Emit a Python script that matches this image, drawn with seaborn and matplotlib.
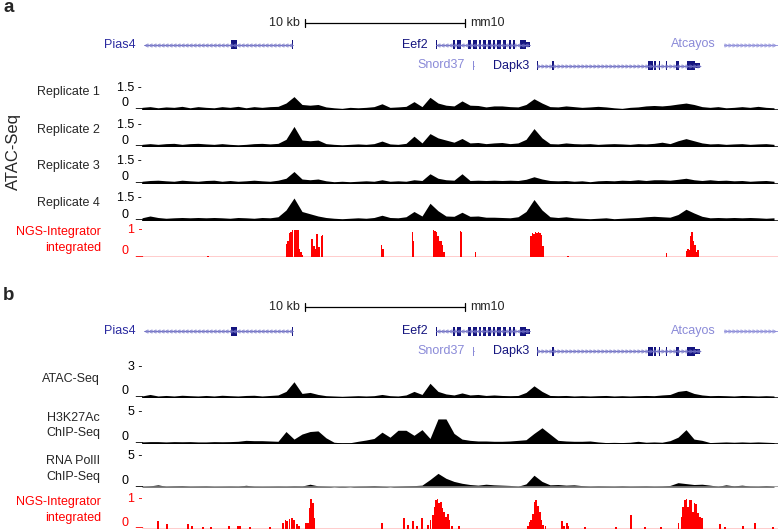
import numpy as np
import pandas as pd
import matplotlib
matplotlib.use("Agg")
import matplotlib.pyplot as plt
from matplotlib.patches import Rectangle
import seaborn as sns

# ---------------- data ----------------
# signal tracks: one value per 0.5 kb bin, 80 bins (track units)
rep1 = [0.15, 0.2, 0.12, 0.18, 0.15, 0.22, 0.12, 0.2, 0.15, 0.12,
        0.2, 0.15, 0.22, 0.12, 0.2, 0.15, 0.2, 0.22, 0.45, 0.9,
        0.35, 0.3, 0.35, 0.18, 0.12, 0.08, 0.15, 0.12, 0.15, 0.2,
        0.4, 0.15, 0.18, 0.22, 0.55, 0.2, 0.85, 0.45, 0.3, 0.25,
        0.6, 0.3, 0.28, 0.18, 0.25, 0.25, 0.2, 0.18, 0.35, 0.75,
        0.45, 0.2, 0.18, 0.25, 0.2, 0.15, 0.18, 0.22, 0.18, 0.12,
        0.08, 0.15, 0.18, 0.25, 0.28, 0.25, 0.3, 0.38, 0.45, 0.35,
        0.2, 0.15, 0.2, 0.12, 0.15, 0.2, 0.15, 0.22, 0.15, 0.12]
rep2 = [0.15, 0.2, 0.15, 0.2, 0.22, 0.15, 0.2, 0.22, 0.18, 0.15,
        0.2, 0.15, 0.12, 0.15, 0.2, 0.22, 0.18, 0.22, 0.5, 1.4,
        0.45, 0.4, 0.45, 0.2, 0.15, 0.12, 0.15, 0.18, 0.15, 0.2,
        0.38, 0.18, 0.15, 0.22, 0.72, 0.25, 0.9, 0.6, 0.45, 0.3,
        0.56, 0.25, 0.28, 0.2, 0.25, 0.28, 0.2, 0.25, 0.5, 1.25,
        0.6, 0.2, 0.18, 0.25, 0.2, 0.18, 0.2, 0.15, 0.18, 0.2,
        0.18, 0.15, 0.2, 0.18, 0.22, 0.3, 0.2, 0.4, 0.55, 0.4,
        0.25, 0.18, 0.2, 0.15, 0.18, 0.2, 0.15, 0.18, 0.2, 0.15]
rep3 = [0.15, 0.2, 0.22, 0.18, 0.15, 0.22, 0.18, 0.15, 0.2, 0.22,
        0.15, 0.2, 0.15, 0.18, 0.22, 0.18, 0.15, 0.22, 0.35, 0.8,
        0.3, 0.25, 0.3, 0.18, 0.12, 0.15, 0.12, 0.15, 0.18, 0.15,
        0.25, 0.15, 0.18, 0.15, 0.25, 0.2, 0.65, 0.35, 0.25, 0.22,
        0.65, 0.2, 0.22, 0.2, 0.22, 0.2, 0.22, 0.2, 0.28, 0.45,
        0.3, 0.2, 0.18, 0.2, 0.15, 0.18, 0.12, 0.18, 0.2, 0.18,
        0.22, 0.2, 0.25, 0.2, 0.25, 0.25, 0.22, 0.28, 0.35, 0.25,
        0.2, 0.25, 0.2, 0.22, 0.18, 0.2, 0.15, 0.18, 0.2, 0.15]
rep4 = [0.18, 0.3, 0.2, 0.15, 0.18, 0.2, 0.18, 0.2, 0.18, 0.2,
        0.18, 0.15, 0.2, 0.18, 0.15, 0.2, 0.18, 0.25, 0.7, 1.5,
        0.6, 0.45, 0.3, 0.2, 0.15, 0.12, 0.15, 0.18, 0.15, 0.2,
        0.35, 0.2, 0.18, 0.25, 0.6, 0.3, 1.15, 0.65, 0.3, 0.28,
        0.55, 0.28, 0.3, 0.22, 0.22, 0.2, 0.18, 0.25, 0.6, 1.4,
        0.7, 0.25, 0.2, 0.25, 0.18, 0.15, 0.12, 0.15, 0.18, 0.12,
        0.15, 0.18, 0.2, 0.25, 0.28, 0.25, 0.22, 0.4, 0.75, 0.5,
        0.28, 0.18, 0.2, 0.18, 0.2, 0.18, 0.2, 0.18, 0.15, 0.18]
atac_b = [0.15, 0.3, 0.15, 0.2, 0.15, 0.22, 0.18, 0.15, 0.2, 0.15,
          0.22, 0.18, 0.15, 0.2, 0.22, 0.15, 0.2, 0.25, 0.6, 1.55,
          0.4, 0.5, 0.3, 0.18, 0.15, 0.12, 0.15, 0.18, 0.15, 0.18,
          0.3, 0.18, 0.15, 0.25, 0.6, 0.3, 1.4, 0.6, 0.35, 0.25,
          0.45, 0.25, 0.3, 0.2, 0.25, 0.2, 0.18, 0.2, 0.5, 1.15,
          0.6, 0.2, 0.18, 0.2, 0.15, 0.18, 0.15, 0.18, 0.2, 0.15,
          0.18, 0.15, 0.18, 0.2, 0.18, 0.25, 0.3, 0.6, 0.7, 0.4,
          0.25, 0.18, 0.2, 0.18, 0.15, 0.2, 0.18, 0.15, 0.18, 0.15]
h3k27ac = [0.25, 0.3, 0.3, 0.25, 0.3, 0.28, 0.3, 0.25, 0.25, 0.3,
           0.28, 0.3, 0.35, 0.5, 0.45, 0.45, 0.4, 0.35, 1.9, 0.7,
           1.5, 1.9, 2.0, 0.9, 0.2, 0.1, 0.12, 0.35, 0.55, 0.8,
           1.8, 1.0, 2.1, 2.1, 1.3, 2.2, 0.8, 3.9, 3.9, 1.6,
           0.7, 0.5, 0.4, 0.4, 0.35, 0.35, 0.4, 0.5, 0.6, 1.6,
           2.5, 1.5, 0.5, 0.4, 0.35, 0.35, 0.4, 0.25, 0.15, 0.18,
           0.15, 0.2, 0.35, 0.2, 0.25, 0.2, 0.45, 1.0, 2.2, 0.7,
           0.5, 0.15, 0.2, 0.25, 0.2, 0.25, 0.2, 0.25, 0.2, 0.15]
pol2 = [0.08, 0.18, 0.35, 0.12, 0.18, 0.22, 0.12, 0.15, 0.18, 0.1,
        0.12, 0.15, 0.12, 0.28, 0.12, 0.1, 0.12, 0.15, 0.12, 0.18,
        0.15, 0.45, 0.18, 0.12, 0.05, 0.1, 0.05, 0.12, 0.15, 0.22,
        0.12, 0.05, 0.12, 0.18, 0.22, 0.3, 1.2, 2.2, 1.4, 0.9,
        0.6, 0.4, 0.3, 0.45, 0.35, 0.3, 0.25, 0.12, 0.5, 1.9,
        0.9, 0.35, 0.4, 0.3, 0.35, 0.22, 0.12, 0.18, 0.15, 0.12,
        0.18, 0.12, 0.15, 0.18, 0.12, 0.15, 0.25, 0.7, 0.55, 0.4,
        0.45, 0.3, 0.12, 0.35, 0.18, 0.3, 0.15, 0.12, 0.22, 0.12]

# NGS-Integrator integrated signal: spike positions (kb) and heights (0-1)
ngs_a_kb = [4.13, 9.03, 9.13, 9.22, 9.31, 9.41, 9.52, 9.63, 9.74, 9.83, 9.94, 10.03,
            10.64, 10.75, 10.84, 10.94, 11.05, 11.21, 11.29, 14.97, 15.05, 16.91, 16.97,
            18.21, 18.3, 18.39, 18.49, 18.58, 18.68, 18.77, 18.88, 19.91, 19.97, 20.84,
            24.31, 24.41, 24.5, 24.59, 24.69, 24.78, 24.88, 24.97, 25.06, 26.63, 32.77,
            34.03, 34.13, 34.22, 34.31, 34.39, 34.48, 34.58, 34.67, 34.75]
ngs_a_h = [0.04, 0.46, 0.6, 0.86, 0.9, 1.0, 1.0, 1.0, 1.0, 0.3, 0.2, 0.08,
           0.65, 0.4, 0.3, 0.84, 0.35, 0.75, 0.8, 0.44, 0.3, 0.92, 0.6,
           1.0, 0.95, 0.9, 0.75, 0.6, 0.58, 0.45, 0.2, 0.95, 0.9, 0.17,
           0.75, 0.88, 0.85, 0.92, 0.87, 0.92, 0.88, 0.8, 0.4, 0.05, 0.15,
           0.22, 0.3, 0.25, 0.75, 0.92, 0.58, 0.45, 0.2, 0.25]
ngs_b_kb = [1.0, 1.56, 2.88, 3.13, 3.81, 4.31, 5.44, 6.0, 6.13, 6.75, 8.0,
            8.83, 8.96, 9.08, 9.21, 9.36, 9.5, 9.67, 9.83, 10.25, 10.39, 10.5, 10.58,
            10.67, 10.75, 15.0, 16.38, 16.63, 16.94, 17.19, 17.5,
            17.88, 18.04, 18.17, 18.29, 18.39, 18.48, 18.58, 18.69, 18.79, 18.89, 19.0,
            19.11, 19.21, 19.36, 19.81, 24.13, 24.21, 24.31, 24.44, 24.54, 24.64, 24.75,
            24.86, 24.96, 25.06, 25.21, 26.25, 26.38, 26.56, 26.66, 27.69, 29.63, 30.56,
            31.44, 32.44, 33.54, 33.71, 33.81, 33.92, 34.02, 34.13, 34.23, 34.33, 34.44,
            34.54, 34.64, 34.75, 34.86, 35.0, 36.13, 36.44, 37.56, 38.31, 39.44]
ngs_b_h = [0.25, 0.15, 0.15, 0.08, 0.04, 0.05, 0.08, 0.1, 0.08, 0.04, 0.05,
           0.17, 0.3, 0.26, 0.33, 0.35, 0.28, 0.15, 0.1, 0.17, 0.2, 0.68, 1.0,
           0.85, 0.34, 0.17, 0.34, 0.12, 0.26, 0.1, 0.36,
           0.11, 0.3, 0.45, 0.74, 0.97, 1.0, 0.88, 0.9, 0.68, 0.57, 0.4,
           0.49, 0.28, 0.1, 0.1, 0.1, 0.23, 0.3, 0.5, 0.9, 0.95, 0.75,
           0.55, 0.3, 0.12, 0.1, 0.25, 0.1, 0.17, 0.1, 0.05, 0.06, 0.45,
           0.05, 0.05, 0.17, 0.4, 0.74, 0.97, 1.0, 0.74, 0.98, 0.98, 0.57,
           0.88, 0.83, 0.51, 0.4, 0.34, 0.15, 0.05, 0.08, 0.2, 0.06]

# gene models (kb): line extent, coding exons, UTR blocks
pias4_span = (0.13, 9.44)
pias4_exons = [(5.56, 5.94), (9.38, 9.44)]
eef2_span = (18.38, 24.25)
eef2_exons = [(18.38, 18.44), (19.42, 19.58), (19.69, 19.94), (20.38, 20.56),
              (20.69, 20.94), (21.06, 21.19), (21.31, 21.5), (21.63, 21.81),
              (21.94, 22.06), (22.19, 22.44), (22.56, 22.75), (22.94, 23.06),
              (23.19, 23.31), (23.63, 24.0)]
eef2_utr = [(24.0, 24.25)]
dapk3_span = (24.69, 34.88)
dapk3_exons = [(24.69, 24.75), (25.63, 25.75), (31.63, 31.94), (32.0, 32.13),
               (32.31, 32.38), (32.75, 32.81), (33.38, 33.56), (34.06, 34.56)]
dapk3_utr = [(34.56, 34.88)]
snord37_span = (20.69, 20.75)
atcayos_span = (36.38, 40.5)
scale_start_kb = 10.19
scale_len_kb = 10

# ---------------- layout ----------------
W, H = 778, 530
X0 = 142          # left edge of the data tracks (px)
KB_PX = 16.0      # px per kb (10 kb bar = 160 px)
X_END_KB = (W - X0) / KB_PX
BIN_KB = 0.5
bin_kb = np.arange(len(rep1)) * BIN_KB

DARK = "#14147f"
INTRON = "#7070c4"
PIAS = "#2a2aa0"
LIGHT = "#8a8ad8"
RED = "#ff0000"

sns.set_style("white")
plt.rcParams["font.family"] = ["Liberation Sans", "DejaVu Sans"]
plt.rcParams["font.size"] = 9

fig = plt.figure(figsize=(W / 100, H / 100), dpi=100)


def rect(left, top, right, bottom):
    return [left / W, 1 - bottom / H, (right - left) / W, (bottom - top) / H]


def ftext(x, y, s, **kw):
    fig.text(x / W, 1 - y / H, s, **kw)


def signal_track(top, base, ymax, values, base_color="black"):
    ax = fig.add_axes(rect(X0, top, W, base))
    df = pd.DataFrame({"kb": bin_kb, "signal": values})
    sns.histplot(data=df, x="kb", weights="signal", binwidth=BIN_KB,
                 binrange=(-BIN_KB / 2, bin_kb[-1] + BIN_KB / 2), element="poly",
                 fill=True, color="black", alpha=1, linewidth=0, ax=ax)
    ax.axhline(0, color=base_color, lw=1.1)
    ax.set_xlim(0, X_END_KB)
    ax.set_ylim(0, ymax)
    ax.axis("off")


def red_track(top, base, pos, heights):
    ax = fig.add_axes(rect(X0, top, W, base))
    ax.bar(pos, heights, width=0.1, color=RED, linewidth=0)
    ax.axhline(0, color=RED, lw=1.0)
    ax.set_xlim(0, X_END_KB)
    ax.set_ylim(0, 1)
    ax.axis("off")


def y_labels(top, base, top_label, color="black"):
    ftext(142, top, top_label + " -", ha="right", va="center", color=color)
    ftext(129, base - 6, "0", ha="right", va="center", color=color)
    ftext(142, base - 3, "_", ha="right", va="baseline", color=color)


# overlay axes in kb (x) and pixels (y) for gene models and scale bar
ann = fig.add_axes([0, 0, 1, 1])
ann.set_xlim(-X0 / KB_PX, X_END_KB)
ann.set_ylim(H, 0)
ann.axis("off")


def draw_gene(y, span, exons, utr, strand, color, line_color, label, label_color):
    s, e = span
    e = min(e, X_END_KB)
    ann.plot([s, e], [y, y], color=line_color, lw=0.6)
    marks = np.arange(s + 0.15, e, 0.25)
    ann.plot(marks, np.full(len(marks), y), ls="none", marker=strand,
             ms=2.4, mfc="none", mec=line_color, mew=0.5)
    for a, b in exons:
        ann.add_patch(Rectangle((a, y - 4.5), b - a, 9, color=color, lw=0))
    for a, b in utr:
        ann.add_patch(Rectangle((a, y - 2.5), b - a, 5, color=color, lw=0))
    ann.text(span[0] - 0.5, y, label, ha="right", va="center", color=label_color, fontsize=9)


def draw_header(y_scale, y_row1, y_row2):
    ann.plot([scale_start_kb, scale_start_kb + scale_len_kb], [y_scale, y_scale],
             color="black", lw=0.9)
    for xk in (scale_start_kb, scale_start_kb + scale_len_kb):
        ann.plot([xk, xk], [y_scale - 4, y_scale + 4], color="black", lw=0.9)
    ann.text(scale_start_kb - 0.3, y_scale, "10 kb", ha="right", va="center")
    ann.text(scale_start_kb + scale_len_kb + 0.35, y_scale, "mm10", ha="left", va="center")
    draw_gene(y_row1, pias4_span, pias4_exons, [], "<", DARK, INTRON, "Pias4", PIAS)
    draw_gene(y_row1, eef2_span, eef2_exons, eef2_utr, "<", DARK, INTRON, "Eef2", DARK)
    draw_gene(y_row1, atcayos_span, [], [], ">", LIGHT, LIGHT, "Atcayos", LIGHT)
    draw_gene(y_row2, snord37_span, [snord37_span], [], ">", LIGHT, LIGHT, "Snord37", LIGHT)
    draw_gene(y_row2, dapk3_span, dapk3_exons, dapk3_utr, ">", DARK, INTRON, "Dapk3", DARK)


# ---------------- panel a ----------------
ftext(3, 7, "a", fontsize=13.5, fontweight="bold", va="center")
draw_header(22.5, 44.5, 65.5)

rep_tracks = [(88, 109.5, rep1), (125, 146.5, rep2), (161, 183.5, rep3), (198, 220.5, rep4)]
for k, (top, base, vals) in enumerate(rep_tracks):
    signal_track(top, base, 1.5, vals)
    y_labels(top, base, "1.5")
    ftext(100, top + 5 if k else 92, f"Replicate {k + 1}", ha="right", va="center")
ftext(13, 152, "ATAC-Seq", rotation=90, fontsize=12, ha="center", va="center")

red_track(229.5, 257, ngs_a_kb, ngs_a_h)
y_labels(229.5, 257, "1", RED)
ftext(101, 232, "NGS-Integrator", ha="right", va="center", color=RED)
ftext(101, 248, "integrated", ha="right", va="center", color=RED)

# ---------------- panel b ----------------
ftext(3, 295, "b", fontsize=13.5, fontweight="bold", va="center")
draw_header(306.5, 331, 351)

signal_track(367, 397.5, 3, atac_b)
y_labels(367, 397.5, "3")
ftext(100, 379, "ATAC-Seq", ha="right", va="center")

signal_track(412, 443.5, 5, h3k27ac)
y_labels(412, 443.5, "5")
ftext(100, 418, "H3K27Ac", ha="right", va="center")
ftext(100, 433, "ChIP-Seq", ha="right", va="center")

signal_track(456, 487, 5, pol2, base_color="#8c8c8c")
y_labels(456, 487, "5")
ftext(100, 461, "RNA PolII", ha="right", va="center")
ftext(100, 477, "ChIP-Seq", ha="right", va="center")

red_track(499, 528.5, ngs_b_kb, ngs_b_h)
y_labels(499, 528.5, "1", RED)
ftext(101, 502, "NGS-Integrator", ha="right", va="center", color=RED)
ftext(101, 518, "integrated", ha="right", va="center", color=RED)

fig.savefig("out.png", dpi=100)
